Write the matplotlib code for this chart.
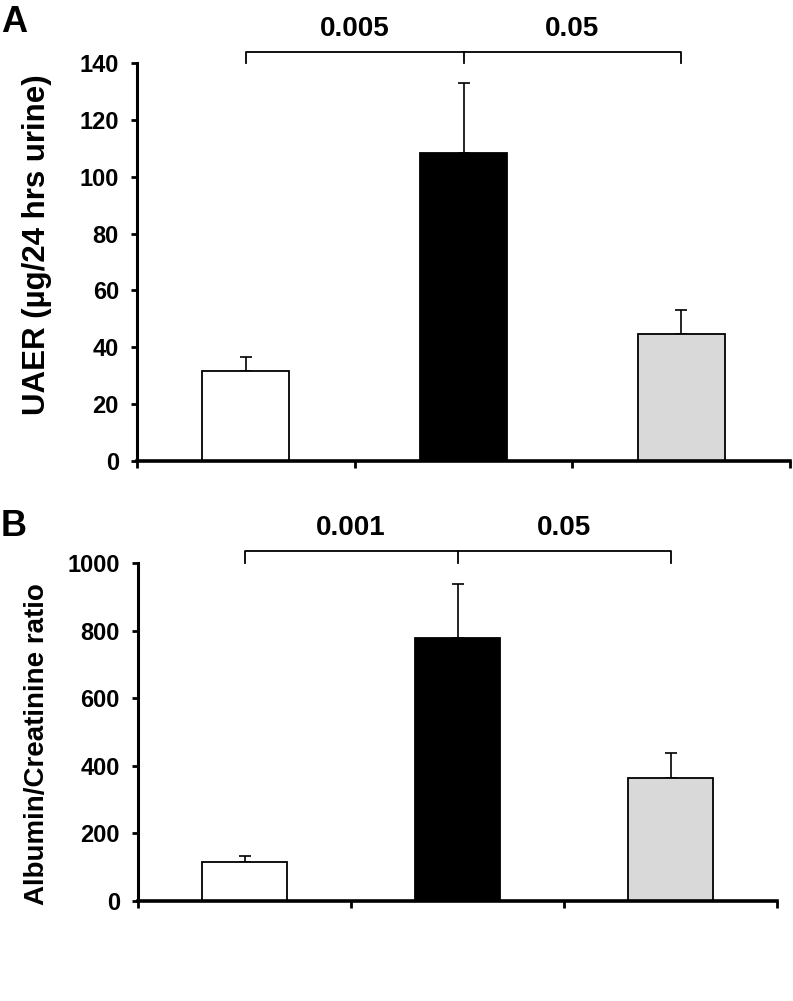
import matplotlib
matplotlib.use("Agg")
import matplotlib.pyplot as plt
import numpy as np

plt.rcParams['font.family'] = ['Liberation Sans', 'DejaVu Sans']
plt.rcParams['font.weight'] = 'bold'

groups = ["Group 1", "Group 2", "Group 3"]
colors = ["white", "black", "#d9d9d9"]

uaer_mean = [31.5, 108.5, 44.8]
uaer_err = [5.1, 24.6, 8.2]
uaer_pvals = ["0.005", "0.05"]

acr_mean = [114, 778, 365]
acr_err = [19, 160, 72]
acr_pvals = ["0.001", "0.05"]

fig = plt.figure(figsize=(7.93, 10.01), dpi=100)

def panel(rect, means, errs, ymax, ystep, ylabel, pvals, letter, letter_xy,
          ylab_xy, ylab_size, bracket_y, text_y):
    ax = fig.add_axes(rect)
    x = np.arange(len(means))
    ax.bar(x, means, width=0.4, color=colors, edgecolor='black', linewidth=1.3, zorder=2)
    ax.errorbar(x, means, yerr=[np.zeros(len(errs)), errs], fmt='none',
                ecolor='black', elinewidth=1.2, capsize=4, capthick=1.2, zorder=1)
    ax.set_xlim(-0.5, 2.5)
    ax.set_ylim(0, ymax)
    ax.set_xticks([-0.5, 0.5, 1.5, 2.5])
    ax.set_xticklabels([])
    ax.set_yticks(np.arange(0, ymax + 1, ystep))
    ax.tick_params(axis='y', direction='out', length=4, width=2, labelsize=17, pad=9)
    ax.tick_params(axis='x', direction='out', length=5, width=2)
    for lab in ax.get_yticklabels():
        lab.set_fontweight('bold')
    for s in ['top', 'right']:
        ax.spines[s].set_visible(False)
    ax.spines['left'].set_linewidth(2.2)
    ax.spines['bottom'].set_linewidth(2.6)
    # bracket
    bx = [0, 1, 2]
    ax.plot([bx[0], bx[0], bx[2], bx[2]], [ymax, bracket_y, bracket_y, ymax],
            color='black', lw=1.3, clip_on=False)
    ax.plot([bx[1], bx[1]], [bracket_y, ymax], color='black', lw=1.3, clip_on=False)
    ax.text((bx[0] + bx[1]) / 2, text_y, pvals[0], ha='center', va='center',
            fontsize=20, fontweight='bold', clip_on=False)
    ax.text((bx[1] + bx[2]) / 2, text_y, pvals[1], ha='center', va='center',
            fontsize=20, fontweight='bold', clip_on=False)
    fig.text(letter_xy[0], letter_xy[1], letter, fontsize=26, fontweight='bold',
             ha='left', va='center')
    fig.text(ylab_xy[0], ylab_xy[1], ylabel, rotation=90, fontsize=ylab_size,
             fontweight='bold', ha='center', va='center')
    return ax

panel([137/793, 1 - 461/1001, (790-137)/793, (461-63)/1001],
      uaer_mean, uaer_err, 140, 20, "UAER (µg/24 hrs urine)", uaer_pvals,
      "A", (1/793, 1 - 22/1001), (37/793, 1 - 245/1001), 22.5, 144, 152)

panel([138/793, 1 - 901/1001, (777-138)/793, (901-563)/1001],
      acr_mean, acr_err, 1000, 200, "Albumin/Creatinine ratio", acr_pvals,
      "B", (1/793, 1 - 527/1001), (37/793, 1 - 744/1001), 20, 1036, 1103)

fig.savefig("out.png", dpi=100)
